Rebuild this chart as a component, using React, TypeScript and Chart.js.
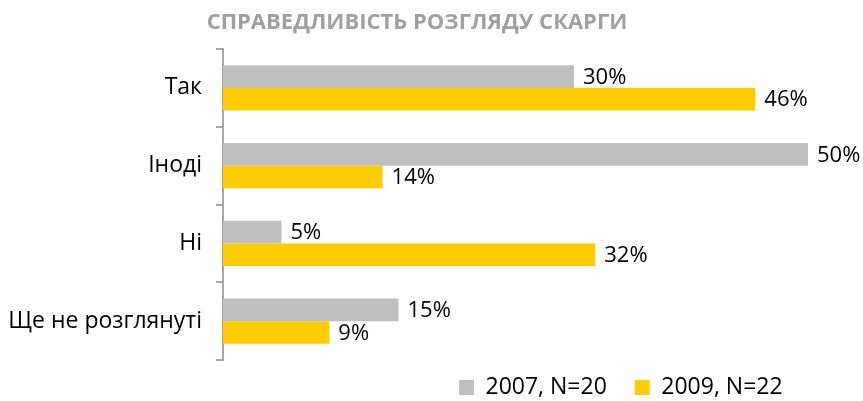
import { useEffect, useRef } from 'react';
import { Chart, registerables } from 'chart.js';

Chart.register(...registerables);

const titleText = 'СПРАВЕДЛИВІСТЬ РОЗГЛЯДУ СКАРГИ';
const categories = ['Так', 'Іноді', 'Ні', 'Ще не розглянуті'];
const seriesNames = ['2007, N=20', '2009, N=22'];
const values2007 = [30, 50, 5, 15];
const values2009 = [45.5, 13.64, 31.82, 9.09];
const xMin = 0;
const xMax = 50;

const FONT = "'Open Sans', 'Liberation Sans', sans-serif";

const valueLabels = {
  id: 'valueLabels',
  afterDatasetsDraw(chart: any) {
    const ctx = chart.ctx;
    ctx.save();
    ctx.font = `22px ${FONT}`;
    ctx.fillStyle = '#000000';
    ctx.textAlign = 'left';
    ctx.textBaseline = 'middle';
    chart.data.datasets.forEach((ds: any, di: number) => {
      const meta = chart.getDatasetMeta(di);
      meta.data.forEach((el: any, i: number) => {
        const v = ds.data[i];
        ctx.fillText(`${Math.round(v)}%`, el.x + 9, el.y + 1);
      });
    });
    ctx.restore();
  },
};

const titlePlugin = {
  id: 'titlePlugin',
  afterDraw(chart: any) {
    const ctx = chart.ctx;
    ctx.save();
    ctx.font = `bold 22px ${FONT}`;
    ctx.fillStyle = '#A0A0A0';
    ctx.textAlign = 'center';
    ctx.textBaseline = 'middle';
    ctx.fillText(titleText, 417, 23);
    ctx.restore();
  },
};

const legendPlacer = {
  id: 'legendPlacer',
  afterLayout(chart: any) {
    const lg = chart.legend;
    if (!lg) return;
    const pad = lg.options.labels.padding;
    const w = lg.right - lg.left;
    const h = lg.bottom - lg.top;
    lg.left = 459 - pad;
    lg.right = lg.left + w;
    lg.top = 376 - pad;
    lg.bottom = lg.top + h;
  },
};

export default function App() {
  const ref = useRef<HTMLCanvasElement>(null);
  useEffect(() => {
    if (!ref.current) return;
    const chart = new Chart(ref.current, {
      type: 'bar',
      data: {
        labels: categories,
        datasets: [
          {
            label: seriesNames[0],
            data: values2007,
            backgroundColor: '#BFBFBF',
            borderWidth: 0,
            categoryPercentage: 0.58,
            barPercentage: 1,
          },
          {
            label: seriesNames[1],
            data: values2009,
            backgroundColor: '#FFCC00',
            borderWidth: 0,
            categoryPercentage: 0.58,
            barPercentage: 1,
          },
        ],
      },
      options: {
        indexAxis: 'y',
        responsive: false,
        animation: false,
        events: [],
        layout: { padding: { top: 49, right: 55, bottom: -20, left: 0 } },
        scales: {
          x: { display: false, min: xMin, max: xMax },
          y: {
            afterFit: (scale: any) => {
              scale.width = 223;
            },
            grid: {
              display: true,
              drawOnChartArea: false,
              drawTicks: true,
              tickLength: 7,
              color: '#A6A6A6',
              lineWidth: 2,
              offset: true,
            },
            border: { display: true, color: '#A6A6A6', width: 2 },
            ticks: {
              color: '#000000',
              font: { family: FONT, size: 23 },
              padding: 14,
            },
          },
        },
        plugins: {
          legend: {
            display: true,
            position: 'bottom',
            align: 'start',
            labels: {
              boxWidth: 15,
              boxHeight: 15,
              padding: 28,
              color: '#000000',
              font: { family: FONT, size: 23 },
            },
          },
          title: { display: false },
          tooltip: { enabled: false },
        },
      },
      plugins: [valueLabels, titlePlugin, legendPlacer],
    });
    return () => chart.destroy();
  }, []);
  return (
    <div style={{ position: 'fixed', left: 0, top: 0, width: 863, height: 401, background: '#fff' }}>
      <canvas ref={ref} width={863} height={401} style={{ display: 'block' }} />
    </div>
  );
}
